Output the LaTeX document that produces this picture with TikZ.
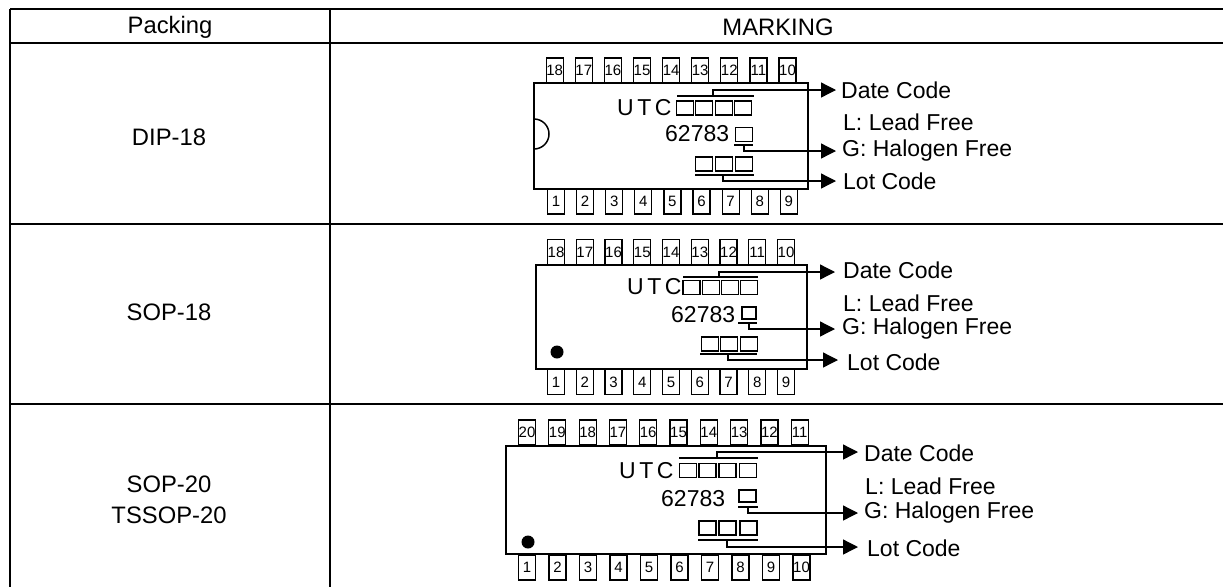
\documentclass[tikz,border=0pt]{standalone}
\usepackage{fontspec}
\setmainfont{Liberation Sans}
\usetikzlibrary{arrows.meta}
\begin{document}
\begin{tikzpicture}
        [x=1pt, y=-1pt,
        rule/.style={black, line width=2pt},
        body/.style={black, line width=1.5pt},
        lead/.style={black, line width=1.3pt, -{Triangle[length=15pt,width=15pt]}},
        pin/.style={draw, line width=1.2pt, minimum width=17pt, minimum height=25pt, inner sep=0pt, font=\fontsize{15}{15}\selectfont},
        cell/.style={draw, line width=1.2pt, minimum width=17pt, minimum height=14pt, inner sep=0pt},
        bar/.style={fill=black, minimum height=1.6pt, inner sep=0pt},
        head/.style={font=\fontsize{23.8}{26}\selectfont, inner sep=0pt},
        code/.style={font=\fontsize{23}{26}\selectfont, inner sep=0pt, anchor=base west},
        note/.style={font=\fontsize{23}{26}\selectfont, inner sep=0pt, anchor=west}]

        \useasboundingbox (0,0) rectangle (1223,587);

        % table rules
        \coordinate (tl) at (10,9);
        \coordinate (tr) at (1223,9);
        \coordinate (hl) at (10,43);
        \coordinate (hr) at (1223,43);
        \coordinate (al) at (10,224);
        \coordinate (ar) at (1223,224);
        \coordinate (bl) at (10,404);
        \coordinate (br) at (1223,404);
        \coordinate (el) at (10,587);
        \coordinate (mt) at (330,9);
        \coordinate (mb) at (330,587);
        \draw[rule] (tl) -- (tr);
        \draw[rule] (hl) -- (hr);
        \draw[rule] (al) -- (ar);
        \draw[rule] (bl) -- (br);
        \draw[rule] (tl) -- (el);
        \draw[rule] (mt) -- (mb);

        % table texts
        \node[head] (packing) at (170,27) {Packing};
        \node[head] (marking) at (778,27) {MARKING};
        \node[head] (dip) at (169,137) {DIP-18};
        \node[head] (sop) at (169,312) {SOP-18};
        \node[head] (sopa) at (169,484) {SOP-20};
        \node[head] (sopb) at (169,515) {TSSOP-20};

        % DIP-18
        \node[draw, line width=1.5pt, minimum width=274pt, minimum height=106pt, inner sep=0pt] (chipa) at (671,136) {};
        \draw[body] (534,149) arc (90:-90:15);
        \foreach \n [count=\i from 0] in {18,17,...,10}
            \node[pin] (atop\n) at (554.7+\i*29.1,70.5) {\n};
        \foreach \n [count=\i from 0] in {1,...,9}
            \node[pin] (abot\n) at (556+\i*29.1,201.5) {\n};
        \node[code] (autc) at (617,115) {U\kern3.5pt T\kern3.5pt C};
        \node[code] (anum) at (665,141) {62783};
        \foreach \x [count=\i] in {685,704,724,743}
            \node[cell] (ad\i) at (\x,108) {};
        \node[cell] (ah) at (744,134.5) {};
        \foreach \x [count=\i] in {704,724,744}
            \node[cell] (al\i) at (\x,164) {};
        \node[bar, minimum width=77pt] (adbar) at (715.5,96) {};
        \node[bar, minimum width=19pt] (ahbar) at (743.5,145) {};
        \node[bar, minimum width=59pt] (albar) at (724.5,175) {};
        \coordinate (adt) at (713,96);
        \coordinate (aht) at (744,145);
        \coordinate (alt) at (723,175);
        \coordinate (ade) at (836,90);
        \coordinate (ahe) at (836,151);
        \coordinate (ale) at (836,181);
        \draw[lead] (adt) |- (ade);
        \draw[lead] (aht) |- (ahe);
        \draw[lead] (alt) |- (ale);
        \node[note] (adate) at (841,90) {Date Code};
        \node[note] (alead) at (843,122) {L: Lead Free};
        \node[note] (ahal) at (842,151) {G: Halogen Free};
        \node[note] (alot) at (843,181) {Lot Code};

        % SOP-18
        \node[draw, line width=1.5pt, minimum width=271pt, minimum height=104pt, inner sep=0pt] (chipb) at (671.5,317) {};
        \node[circle, fill=black, minimum size=13pt, inner sep=0pt] (bdot) at (557,352) {};
        \foreach \n [count=\i from 0] in {18,17,...,10}
            \node[pin] (btop\n) at (556+\i*28.75,252) {\n};
        \foreach \n [count=\i from 0] in {1,...,9}
            \node[pin] (bbot\n) at (556+\i*28.75,382) {\n};
        \node[code] (butc) at (627,294) {U\kern3.5pt T\kern3.5pt C};
        \node[code] (bnum) at (671,322) {62783};
        \foreach \x [count=\i] in {691.5,711,730,749}
            \node[cell] (bd\i) at (\x,287.5) {};
        \node[cell, minimum width=14pt, minimum height=12pt] (bh) at (749,313) {};
        \foreach \x [count=\i] in {710,729,749}
            \node[cell] (bl\i) at (\x,344) {};
        \node[bar, minimum width=75pt] (bdbar) at (720.5,277) {};
        \node[bar, minimum width=19pt] (bhbar) at (747.5,323) {};
        \node[bar, minimum width=57pt] (blbar) at (728.5,354) {};
        \coordinate (bdt) at (719,277);
        \coordinate (bht) at (749,323);
        \coordinate (blt) at (728,354);
        \coordinate (bde) at (835,272);
        \coordinate (bhe) at (835,329);
        \coordinate (ble) at (838,360);
        \draw[lead] (bdt) |- (bde);
        \draw[lead] (bht) |- (bhe);
        \draw[lead] (blt) |- (ble);
        \node[note] (bdate) at (843,270) {Date Code};
        \node[note] (blead) at (843,303) {L: Lead Free};
        \node[note] (bhal) at (842,329) {G: Halogen Free};
        \node[note] (blot) at (847,362) {Lot Code};

        % SOP-20 and TSSOP-20
        \node[draw, line width=1.5pt, minimum width=320pt, minimum height=108pt, inner sep=0pt] (chipc) at (666,500) {};
        \node[circle, fill=black, minimum size=13pt, inner sep=0pt] (cdot) at (528,542) {};
        \foreach \n [count=\i from 0] in {20,19,...,11}
            \node[pin] (ctop\n) at (527+\i*30.3,432.5) {\n};
        \foreach \n [count=\i from 0] in {1,...,10}
            \node[pin] (cbot\n) at (527+\i*30.5,567.5) {\n};
        \node[code] (cutc) at (619,478) {U\kern3.5pt T\kern3.5pt C};
        \node[code] (cnum) at (661,506) {62783};
        \foreach \x [count=\i] in {688,707.5,727.5,748}
            \node[cell] (cd\i) at (\x,470.5) {};
        \node[cell, minimum height=12pt] (ch) at (747.5,496) {};
        \foreach \x [count=\i] in {707.5,727.5,748.5}
            \node[cell] (cl\i) at (\x,528) {};
        \node[bar, minimum width=79pt] (cdbar) at (718.5,458) {};
        \node[bar, minimum width=20pt] (chbar) at (748,507) {};
        \node[bar, minimum width=60pt] (clbar) at (728,540) {};
        \coordinate (cdt) at (717,458);
        \coordinate (cht) at (748,507);
        \coordinate (clt) at (727,540);
        \coordinate (cde) at (858,452);
        \coordinate (che) at (858,513);
        \coordinate (cle) at (858,547);
        \draw[lead] (cdt) |- (cde);
        \draw[lead] (cht) |- (che);
        \draw[lead] (clt) |- (cle);
        \node[note] (cdate) at (864,453) {Date Code};
        \node[note] (clead) at (865,486) {L: Lead Free};
        \node[note] (chal) at (864,513) {G: Halogen Free};
        \node[note] (clot) at (867,548) {Lot Code};

    \end{tikzpicture}
\end{document}
